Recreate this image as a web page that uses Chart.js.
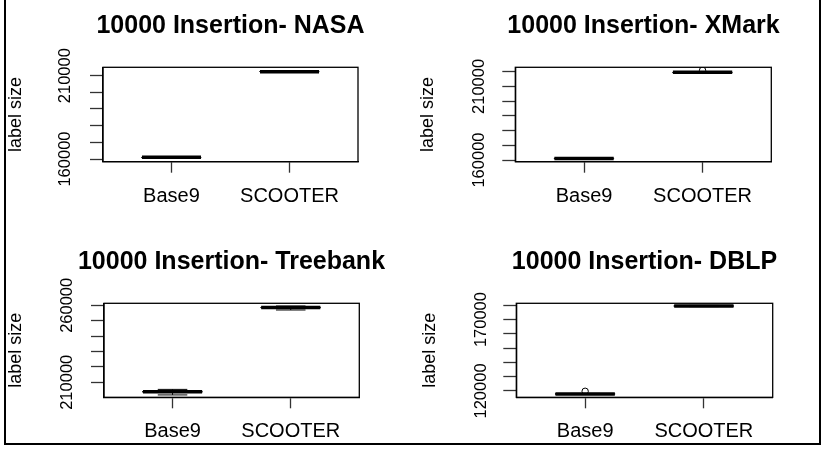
<!DOCTYPE html>
<html>
<head>
<meta charset="utf-8">
<script src="https://cdn.jsdelivr.net/npm/chart.js@4.4.0/dist/chart.umd.min.js"></script>
<style>
  html, body { margin: 0; padding: 0; background: #fff; }
  #page { position: relative; width: 834px; height: 450px; overflow: hidden; background: #fff; }
  #frame { position: absolute; left: 4px; top: -10px; width: 813px; height: 453px;
           border: 2px solid #000; border-top: none; }
  canvas { position: absolute; }
</style>
</head>
<body>
<div id="page">
  <div id="frame"></div>
</div>
<script>
// groups on the x axis
const categories = ['Base9', 'SCOOTER'];

// box stats per group: [min, q1, median, q3, max]
const nasaBase9 = [160600, 160800, 161000, 161200, 161400];
const nasaScooter = [212000, 212200, 212400, 212600, 212800];
const nasaOutliers = [[], []];
const nasaTicks = [160000, 170000, 180000, 190000, 200000, 210000];
const nasaTickLabels = [160000, 210000];
const nasaRange = [158400, 215000];

const xmarkBase9 = [160700, 160900, 161100, 161300, 161500];
const xmarkScooter = [219100, 219350, 219550, 219750, 220000];
const xmarkOutliers = [[], [220900]];
const xmarkTicks = [160000, 170000, 180000, 190000, 200000, 210000, 220000];
const xmarkTickLabels = [160000, 210000];
const xmarkRange = [158870, 222950];

const treebankBase9 = [201800, 203500, 203900, 204300, 205400];
const treebankScooter = [256950, 258300, 258650, 258900, 259550];
const treebankOutliers = [[], []];
const treebankTicks = [210000, 220000, 230000, 240000, 250000, 260000];
const treebankTickLabels = [210000, 260000];
const treebankRange = [200260, 261300];

const dblpBase9 = [117500, 117700, 117900, 118100, 118300];
const dblpScooter = [179100, 179300, 179530, 179700, 179900];
const dblpOutliers = [[119800], []];
const dblpTicks = [120000, 130000, 140000, 150000, 160000, 170000, 180000];
const dblpTickLabels = [120000, 170000];
const dblpRange = [115570, 181400];

const FONT = "'Liberation Sans', Arial, sans-serif";
const TITLE_SIZE = 25;
const HALF_BOX = 0.25;   // box half width, in x units
const HALF_STAPLE = 0.125;

function seg(data, width, dash) {
  return {
    data: data, showLine: true, borderColor: '#000', borderWidth: width,
    borderDash: dash || [], pointRadius: 0, fill: false, tension: 0
  };
}

function boxDatasets(groups, outliers) {
  const sets = [];
  groups.forEach((s, i) => {
    const x = i + 1;
    const [lo, q1, med, q3, hi] = s;
    sets.push(seg([{x: x, y: q3}, {x: x, y: hi}], 1, [4, 3]));
    sets.push(seg([{x: x, y: q1}, {x: x, y: lo}], 1, [4, 3]));
    sets.push(seg([{x: x - HALF_STAPLE, y: hi}, {x: x + HALF_STAPLE, y: hi}], 1));
    sets.push(seg([{x: x - HALF_STAPLE, y: lo}, {x: x + HALF_STAPLE, y: lo}], 1));
    sets.push(seg([
      {x: x - HALF_BOX, y: q1}, {x: x + HALF_BOX, y: q1}, {x: x + HALF_BOX, y: q3},
      {x: x - HALF_BOX, y: q3}, {x: x - HALF_BOX, y: q1}
    ], 1));
    sets.push(seg([{x: x - HALF_BOX, y: med}, {x: x + HALF_BOX, y: med}], 3.5));
    if (outliers[i].length) {
      sets.push({
        data: outliers[i].map(v => ({x: x, y: v})), showLine: false,
        pointRadius: 3.2, pointBackgroundColor: '#fff', pointBorderColor: '#000',
        pointBorderWidth: 1
      });
    }
  });
  return sets;
}

// closes the plot box on all four sides
const plotFrame = {
  id: 'plotFrame',
  afterDraw(chart) {
    const a = chart.chartArea, ctx = chart.ctx;
    ctx.save();
    ctx.strokeStyle = '#000';
    ctx.lineWidth = 1.3;
    ctx.strokeRect(a.left, a.top, a.right - a.left, a.bottom - a.top);
    ctx.restore();
  }
};

// g: absolute plot box (left, right, top, bottom) and panel origin (ox, oy)
function makePanel(title, groups, outliers, range, ticks, tickLabels, g) {
  const center = (g.left + g.right) / 2;
  const W = Math.round(2 * (center - g.ox));
  const H = 225;
  const canvas = document.createElement('canvas');
  canvas.width = W; canvas.height = H;
  canvas.style.left = g.ox + 'px';
  canvas.style.top = g.oy + 'px';
  document.getElementById('page').appendChild(canvas);

  const top = g.top - g.oy, bottom = g.bottom - g.oy;
  const rightGap = W - (g.right - g.ox);
  const halfLine = TITLE_SIZE * 1.2 / 2;
  new Chart(canvas, {
    type: 'scatter',
    data: { datasets: boxDatasets(groups, outliers) },
    options: {
      responsive: false,
      animation: false,
      events: [],
      layout: { padding: 0 },
      plugins: {
        legend: { display: false },
        tooltip: { enabled: false },
        title: {
          display: true, text: title, color: '#000',
          font: { family: FONT, size: TITLE_SIZE, weight: 'bold' },
          padding: { top: g.titleY - halfLine, bottom: top - g.titleY - halfLine }
        }
      },
      scales: {
        x: {
          type: 'linear', min: 0.42, max: 2.58,
          afterBuildTicks: s => { s.ticks = categories.map((c, i) => ({value: i + 1})); },
          afterFit: s => { s.height = H - bottom; },
          ticks: {
            autoSkip: false, maxRotation: 0, padding: 11.5, color: '#000',
            font: { family: FONT, size: 20 },
            callback: v => categories[v - 1] || ''
          },
          grid: { drawOnChartArea: false, drawTicks: true, tickLength: 11, tickColor: '#333', tickWidth: 1.3 },
          border: { display: true, color: '#000', width: 1.3 }
        },
        y: {
          type: 'linear', min: range[0], max: range[1],
          afterBuildTicks: s => { s.ticks = ticks.map(v => ({value: v})); },
          afterFit: s => { s.width = g.left - g.ox; },
          ticks: {
            autoSkip: false, minRotation: 90, maxRotation: 90, crossAlign: 'center',
            padding: g.labelGap - 13 - 27.5, color: '#000',
            font: { family: FONT, size: 16.5 },
            callback: v => tickLabels.includes(v) ? String(v) : ''
          },
          grid: { drawOnChartArea: false, drawTicks: true, tickLength: 13, tickColor: '#333', tickWidth: 1.3 },
          border: { display: true, color: '#000', width: 1.3 },
          title: {
            display: true, text: 'label size', color: '#000',
            font: { family: FONT, size: 18 },
            padding: { top: g.ylabelX - g.ox - 10.8, bottom: 0 }
          }
        },
        // empty right-hand axis: reserves the margin right of the plot box
        yRight: {
          type: 'linear', position: 'right', min: range[0], max: range[1],
          afterFit: s => { s.width = rightGap; },
          ticks: { display: false },
          grid: { display: false, drawTicks: false },
          border: { display: false }
        }
      }
    },
    plugins: [plotFrame]
  });
}

makePanel('10000 Insertion- NASA', [nasaBase9, nasaScooter], nasaOutliers,
  nasaRange, nasaTicks, nasaTickLabels,
  { ox: 0, oy: 0, left: 103, right: 358, top: 67.3, bottom: 161.7, titleY: 26, labelGap: 37.5, ylabelX: 15.8 });
makePanel('10000 Insertion- XMark', [xmarkBase9, xmarkScooter], xmarkOutliers,
  xmarkRange, xmarkTicks, xmarkTickLabels,
  { ox: 417, oy: 0, left: 515.3, right: 771.3, top: 67.3, bottom: 161.7, titleY: 26, labelGap: 35.8, ylabelX: 428.5 });
makePanel('10000 Insertion- Treebank', [treebankBase9, treebankScooter], treebankOutliers,
  treebankRange, treebankTicks, treebankTickLabels,
  { ox: 0, oy: 225, left: 104, right: 359.3, top: 303.3, bottom: 397.3, titleY: 37, labelGap: 36.5, ylabelX: 15.8 });
makePanel('10000 Insertion- DBLP', [dblpBase9, dblpScooter], dblpOutliers,
  dblpRange, dblpTicks, dblpTickLabels,
  { ox: 417, oy: 225, left: 516.3, right: 772.7, top: 303.3, bottom: 397.3, titleY: 37, labelGap: 35.3, ylabelX: 430 });
</script>
</body>
</html>
